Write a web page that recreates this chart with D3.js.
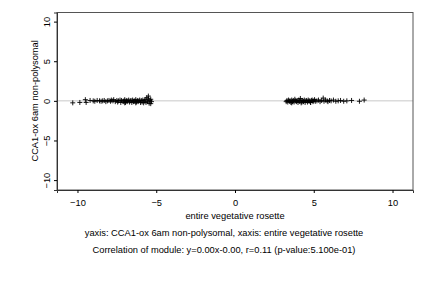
<!DOCTYPE html>
<html>
<head>
<meta charset="utf-8">
<script src="https://cdn.jsdelivr.net/npm/d3@7"></script>
<style>
  body { margin: 0; background: #fff; }
  svg text { font-family: "Liberation Sans", Arial, sans-serif; fill: #000; }
</style>
</head>
<body>
<div id="plot"></div>
<script>
// Data
var leftX = [-10.3, -9.85, -9.5, -9.45, -9.2, -9.0, -8.9, -8.75, -8.6, -8.5, -8.4, -8.3, -8.2, -8.1, -8.0,
  -7.9, -7.85, -7.75, -7.7, -7.6, -7.5, -7.45, -7.4, -7.3, -7.25, -7.2, -7.1, -7.05, -7.0, -6.95,
  -6.9, -6.85, -6.8, -6.75, -6.7, -6.65, -6.6, -6.55, -6.5, -6.45, -6.4, -6.35, -6.3, -6.25, -6.2,
  -6.15, -6.1, -6.05, -6.0, -5.95, -5.9, -5.85, -5.8, -5.75, -5.7, -5.65, -5.6, -5.55, -5.5, -5.45,
  -5.4, -5.35, -5.3, -5.5, -5.35, -6.3, -7.0];
var leftY = [-0.25, -0.2, 0.15, -0.2, 0.05, 0.0, -0.05, 0.05, 0.0, -0.05, 0.0, 0.05, -0.1, 0.0, 0.05,
  -0.05, 0.1, 0.0, 0.15, -0.1, 0.05, -0.15, 0.0, 0.1, -0.2, 0.05, -0.1, 0.0, 0.15, -0.2,
  0.05, -0.1, 0.0, 0.1, -0.15, 0.0, 0.05, -0.2, 0.1, -0.1, 0.0, -0.05, 0.15, -0.15, 0.05,
  -0.1, 0.0, 0.1, -0.2, 0.05, -0.15, 0.1, -0.25, 0.0, 0.15, -0.2, 0.4, -0.1, 0.25, -0.3,
  0.05, -0.35, -0.1, 0.6, 0.2, -0.25, -0.25];
var rightX = [3.25, 3.3, 3.35, 3.4, 3.45, 3.5, 3.55, 3.6, 3.65, 3.7, 3.75, 3.8, 3.85, 3.9, 3.95,
  4.0, 4.05, 4.1, 4.15, 4.2, 4.25, 4.3, 4.35, 4.4, 4.45, 4.5, 4.55, 4.6, 4.65, 4.7,
  4.75, 4.8, 4.85, 4.9, 4.95, 5.0, 5.05, 5.1, 5.2, 5.3, 5.4, 5.5, 5.6, 5.65, 5.75,
  5.85, 5.9, 6.0, 6.1, 6.25, 6.4, 6.55, 6.7, 6.9, 7.1, 7.4, 7.9, 8.2, 3.6, 4.2, 4.8];
var rightY = [-0.1, 0.05, -0.15, 0.1, -0.05, 0.0, -0.2, 0.1, -0.1, 0.05, -0.15, 0.2, 0.0, -0.1, 0.05,
  -0.2, 0.1, -0.05, 0.3, 0.0, -0.15, 0.05, -0.1, 0.1, -0.2, 0.0, 0.05, -0.15, 0.1, -0.05,
  0.0, -0.2, 0.05, 0.1, -0.1, 0.0, 0.15, -0.05, 0.0, 0.1, -0.1, 0.05, 0.35, -0.05, 0.1,
  0.0, -0.1, 0.05, 0.0, 0.1, -0.05, 0.0, 0.05, -0.05, 0.0, 0.05, -0.05, 0.1, -0.25, -0.25, -0.2];

var xTicks = [-10, -5, 0, 5, 10];
var yTicks = [-10, -5, 0, 5, 10];
var xTitle = "entire vegetative rosette";
var yTitle = "CCA1-ox 6am non-polysomal";
var captions = [
  "yaxis: CCA1-ox 6am non-polysomal, xaxis: entire vegetative rosette",
  "Correlation of module: y=0.00x-0.00, r=0.11 (p-value:5.100e-01)"
];

var points = leftX.map((x, i) => ({x: x, y: leftY[i]}))
  .concat(rightX.map((x, i) => ({x: x, y: rightY[i]})));

var width = 432, height = 288;
var margin = {left: 57, right: 19, top: 12.5, bottom: 98};
var fs = "9.3px";

var svg = d3.select("#plot").append("svg")
  .attr("width", width).attr("height", height);

var x = d3.scaleLinear().domain([-11.3, 11.3]).range([margin.left, width - margin.right]);
var y = d3.scaleLinear().domain([-11.25, 11.15]).range([height - margin.bottom, margin.top]);

// zero line
svg.append("line")
  .attr("x1", margin.left).attr("x2", width - margin.right)
  .attr("y1", y(0)).attr("y2", y(0))
  .attr("stroke", "#c8c8c8").attr("stroke-width", 1);

// points as "+"
var s = 2.5;
svg.append("g").selectAll("path").data(points).enter().append("path")
  .attr("d", d => {
    var px = x(d.x), py = y(d.y);
    return "M" + (px - s) + "," + py + "H" + (px + s) + "M" + px + "," + (py - s) + "V" + (py + s);
  })
  .attr("stroke", "#000").attr("stroke-width", 0.9).attr("fill", "none");

// box
svg.append("rect")
  .attr("x", margin.left).attr("y", margin.top)
  .attr("width", width - margin.right - margin.left)
  .attr("height", height - margin.bottom - margin.top)
  .attr("fill", "none").attr("stroke", "#555").attr("stroke-width", 1);

// x axis
var xAxis = svg.append("g").attr("transform", "translate(0," + (height - margin.bottom) + ")")
  .call(d3.axisBottom(x).tickValues(xTicks).tickSize(3).tickPadding(6).tickFormat(d3.format("d")));
xAxis.select(".domain").attr("stroke", "#333");
xAxis.selectAll("text").style("font-size", fs);

// y axis, labels rotated like R's default
var yAxis = svg.append("g").attr("transform", "translate(" + margin.left + ",0)")
  .call(d3.axisLeft(y).tickValues(yTicks).tickSize(3).tickFormat(d3.format("d")));
yAxis.select(".domain").attr("stroke", "#333");
yAxis.selectAll("text")
  .style("font-size", fs)
  .attr("text-anchor", "middle")
  .attr("x", 0).attr("y", 0).attr("dy", 0)
  .attr("transform", "translate(-7,0) rotate(-90)");

// titles
svg.append("text").attr("x", x(0)).attr("y", 219)
  .attr("text-anchor", "middle").style("font-size", fs).text(xTitle);
svg.append("text")
  .attr("transform", "translate(38," + y(0) + ") rotate(-90)")
  .attr("text-anchor", "middle").style("font-size", fs).text(yTitle);

svg.selectAll(".caption").data(captions).enter().append("text")
  .attr("class", "caption")
  .attr("x", 224).attr("y", (d, i) => 236 + i * 17)
  .attr("text-anchor", "middle").style("font-size", fs).text(d => d);
</script>
</body>
</html>
